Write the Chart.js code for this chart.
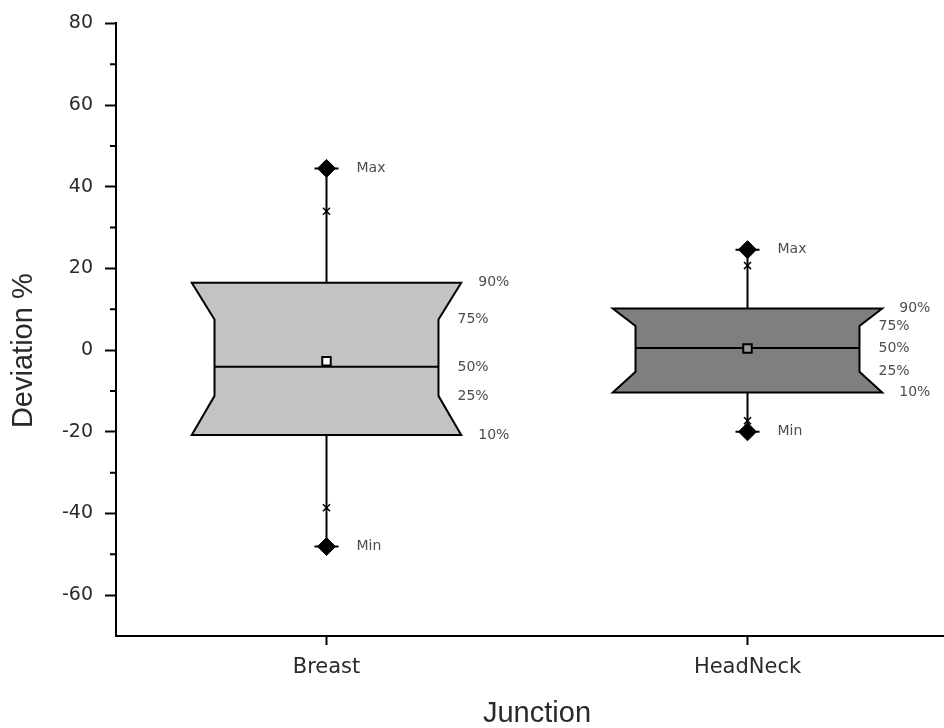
<!DOCTYPE html>
<html>
<head>
<meta charset="utf-8">
<style>
  html, body { margin: 0; padding: 0; background: #fff; overflow: hidden; }
  #wrap { width: 980px; height: 728px; }
</style>
<script src="https://cdn.jsdelivr.net/npm/chart.js@4.4.3/dist/chart.umd.min.js"></script>
</head>
<body>
<div id="wrap"><canvas id="deviation-chart" width="980" height="728"></canvas></div>
<script>
// values (Deviation %)
const categories = ["Breast", "HeadNeck"];
const p90Values = [16.5, 10.2];
const p75Values = [7.5, 5.9];
const p50Values = [-4.1, 0.5];
const p25Values = [-11.2, -5.3];
const p10Values = [-20.8, -10.4];
const meanValues = [-2.7, 0.4];
const maxValues = [44.5, 24.6];
const minValues = [-48.1, -20.0];
const p99Values = [34.0, 20.7];
const p1Values = [-38.6, -17.3];
const yTickLabels = [-60, -40, -20, 0, 20, 40, 60, 80];
const yMinorTicks = [-50, -30, -10, 10, 30, 50, 70];

// look
const OUTER_HALF = 0.32;   // x units
const INNER_HALF = 0.266;  // x units
const boxFills = ["#c3c3c3", "#7f7f7f"];
const meanFills = ["#ffffff", "#9a9a9a"];
const textColor = "#2a2a2a";
const noteColor = "#4d4d4d";

const hourglassPlugin = {
  id: "hourglassBoxes",
  beforeDatasetsDraw(chart) {
    const { ctx } = chart;
    const { x, y } = chart.scales;
    ctx.save();
    ctx.lineWidth = 2;
    ctx.strokeStyle = "#000";
    categories.forEach((name, i) => {
      const c = i + 1;
      const cx = x.getPixelForValue(c);

      // whiskers and caps at max/min
      ctx.beginPath();
      ctx.moveTo(cx, y.getPixelForValue(p90Values[i]));
      ctx.lineTo(cx, y.getPixelForValue(maxValues[i]));
      ctx.moveTo(cx, y.getPixelForValue(p10Values[i]));
      ctx.lineTo(cx, y.getPixelForValue(minValues[i]));
      [maxValues[i], minValues[i]].forEach((v) => {
        const py = y.getPixelForValue(v);
        ctx.moveTo(cx - 12, py);
        ctx.lineTo(cx + 12, py);
      });
      ctx.stroke();

      // hourglass box
      const xo1 = x.getPixelForValue(c - OUTER_HALF);
      const xo2 = x.getPixelForValue(c + OUTER_HALF);
      const xi1 = x.getPixelForValue(c - INNER_HALF);
      const xi2 = x.getPixelForValue(c + INNER_HALF);
      const y90 = y.getPixelForValue(p90Values[i]);
      const y75 = y.getPixelForValue(p75Values[i]);
      const y25 = y.getPixelForValue(p25Values[i]);
      const y10 = y.getPixelForValue(p10Values[i]);
      ctx.beginPath();
      ctx.moveTo(xo1, y90);
      ctx.lineTo(xo2, y90);
      ctx.lineTo(xi2, y75);
      ctx.lineTo(xi2, y25);
      ctx.lineTo(xo2, y10);
      ctx.lineTo(xo1, y10);
      ctx.lineTo(xi1, y25);
      ctx.lineTo(xi1, y75);
      ctx.closePath();
      ctx.fillStyle = boxFills[i];
      ctx.fill();
      ctx.stroke();

      // median
      const y50 = y.getPixelForValue(p50Values[i]);
      ctx.beginPath();
      ctx.moveTo(xi1, y50);
      ctx.lineTo(xi2, y50);
      ctx.stroke();
    });
    ctx.restore();
  },
  afterDatasetsDraw(chart) {
    const { ctx, chartArea } = chart;
    const { x, y } = chart.scales;
    ctx.save();

    // percentile notes
    ctx.font = '14px "DejaVu Sans"';
    ctx.fillStyle = noteColor;
    ctx.textAlign = "left";
    ctx.textBaseline = "middle";
    categories.forEach((name, i) => {
      const c = i + 1;
      const cx = x.getPixelForValue(c);
      const xo = x.getPixelForValue(c + OUTER_HALF);
      const xi = x.getPixelForValue(c + INNER_HALF);
      ctx.fillText("Max", cx + 30, y.getPixelForValue(maxValues[i]));
      ctx.fillText("Min", cx + 30, y.getPixelForValue(minValues[i]));
      ctx.fillText("90%", xo + 17, y.getPixelForValue(p90Values[i]));
      ctx.fillText("75%", xi + 19, y.getPixelForValue(p75Values[i]));
      ctx.fillText("50%", xi + 19, y.getPixelForValue(p50Values[i]));
      ctx.fillText("25%", xi + 19, y.getPixelForValue(p25Values[i]));
      ctx.fillText("10%", xo + 17, y.getPixelForValue(p10Values[i]));
    });

    // short minor ticks on the y axis
    ctx.strokeStyle = "#000";
    ctx.lineWidth = 2;
    ctx.beginPath();
    yMinorTicks.forEach((v) => {
      const py = y.getPixelForValue(v);
      ctx.moveTo(chartArea.left - 6, py);
      ctx.lineTo(chartArea.left, py);
    });
    ctx.stroke();

    // y axis title
    ctx.translate(24, (chartArea.top + chartArea.bottom) / 2 + 21);
    ctx.rotate(-Math.PI / 2);
    ctx.font = '29px "Liberation Sans"';
    ctx.fillStyle = textColor;
    ctx.textAlign = "center";
    ctx.textBaseline = "middle";
    ctx.fillText("Deviation %", 0, 0);
    ctx.restore();
  },
};

const toPoints = (values) => categories.map((_, i) => ({ x: i + 1, y: values[i] }));

new Chart(document.getElementById("deviation-chart"), {
  type: "scatter",
  data: {
    datasets: [
      {
        label: "Max/Min",
        data: [...toPoints(maxValues), ...toPoints(minValues)],
        pointStyle: "rectRot",
        pointRadius: 9,
        backgroundColor: "#000",
        borderColor: "#000",
        borderWidth: 1,
      },
      {
        label: "99%/1%",
        data: [...toPoints(p99Values), ...toPoints(p1Values)],
        pointStyle: "crossRot",
        pointRadius: 5,
        borderColor: "#000",
        borderWidth: 1.5,
      },
      {
        label: "Mean",
        data: toPoints(meanValues),
        pointStyle: "rect",
        pointRadius: 6,
        backgroundColor: meanFills,
        borderColor: "#000",
        borderWidth: 2,
      },
    ],
  },
  options: {
    responsive: false,
    animation: false,
    devicePixelRatio: 1,
    layout: { padding: { left: 0, top: 22, right: 22, bottom: 0 } },
    plugins: {
      legend: { display: false },
      tooltip: { enabled: false },
    },
    scales: {
      x: {
        type: "linear",
        min: 0.5,
        max: 2.5,
        afterBuildTicks(scale) {
          scale.ticks = categories.map((_, i) => ({ value: i + 1 }));
        },
        afterFit(scale) {
          scale.height = 92;
        },
        ticks: {
          callback: (value) => categories[value - 1] ?? "",
          font: { family: "DejaVu Sans", size: 21 },
          color: textColor,
          padding: 10,
          autoSkip: false,
          maxRotation: 0,
        },
        grid: {
          drawOnChartArea: false,
          tickLength: 9,
          tickWidth: 2,
          tickColor: "#000",
        },
        border: { color: "#000", width: 2 },
        title: {
          display: true,
          text: "Junction",
          font: { family: "Liberation Sans", size: 29, lineHeight: 1 },
          color: textColor,
          padding: { top: 0, bottom: 0 },
        },
      },
      y: {
        min: -70,
        max: 80,
        afterFit(scale) {
          scale.width = 116;
        },
        ticks: {
          stepSize: 10,
          autoSkip: false,
          callback: (value) => (yTickLabels.includes(value) ? String(value) : ""),
          font: { family: "DejaVu Sans", size: 19 },
          color: textColor,
          padding: 12,
        },
        grid: {
          drawOnChartArea: false,
          tickLength: 11,
          tickWidth: 2,
          tickColor: (ctx) =>
            ctx.tick && yTickLabels.includes(ctx.tick.value) ? "#000" : "rgba(0,0,0,0)",
        },
        border: { color: "#000", width: 2 },
      },
    },
  },
  plugins: [hourglassPlugin],
});
</script>
</body>
</html>
